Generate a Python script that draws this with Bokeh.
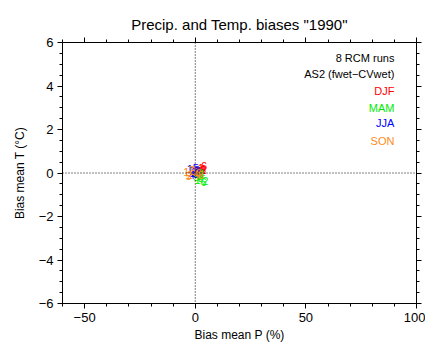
from bokeh.plotting import figure
from bokeh.models import Range1d, SingleIntervalTicker, LinearAxis, Span, Label, ColumnDataSource
from bokeh.core.properties import value
from bokeh.embed import file_html
from bokeh.resources import INLINE

FONT = "Liberation Sans"

title = 'Precip. and Temp. biases "1990"'
runs = ["1", "2", "3", "4", "5", "6", "7", "8"]
seasons = ["DJF", "MAM", "JJA", "SON"]
season_colors = ["#FF0000", "#00EE00", "#0000FF", "#FF8C1A"]

djf_p = [2.5, 3.8, 2.0, 3.2, 1.5, 4.0, 2.8, 3.5]
djf_t = [0.25, 0.15, 0.05, 0.2, 0.1, 0.3, -0.05, 0.12]
mam_p = [1.0, 4.5, 2.2, 3.0, 0.5, 3.8, 1.8, 2.5]
mam_t = [-0.3, -0.35, -0.15, -0.05, -0.2, -0.4, 0.0, -0.25]
jja_p = [-2.5, -0.5, 0.8, -1.5, 0.2, 1.5, -1.0, 0.5]
jja_t = [0.2, 0.05, 0.15, -0.1, 0.25, 0.0, 0.1, -0.05]
son_p = [-4.0, -2.5, -1.0, 0.5, -3.0, 1.5, -1.8, 2.5]
son_t = [0.05, -0.1, 0.1, -0.05, -0.15, 0.0, 0.12, -0.1]

series_p = [djf_p, mam_p, jja_p, son_p]
series_t = [djf_t, mam_t, jja_t, son_t]

p = figure(width=425, height=344, output_backend="svg", toolbar_location=None,
           x_range=Range1d(-60, 100), y_range=Range1d(-6, 6),
           min_border_left=62, min_border_right=9, min_border_top=42, min_border_bottom=41,
           x_axis_label="Bias mean P (%)", y_axis_label="Bias mean T (\u00b0C)",
           title=title)
p.title.align = "center"
p.title.text_font = FONT
p.title.text_font_size = "15px"
p.title.text_font_style = "normal"
p.title.text_color = "black"

p.grid.visible = False
p.outline_line_color = "black"
p.outline_line_width = 1

p.xaxis.ticker = SingleIntervalTicker(interval=50, num_minor_ticks=5)
p.yaxis.ticker = SingleIntervalTicker(interval=2, num_minor_ticks=4)

for ax in [p.xaxis[0], p.yaxis[0]]:
    ax.major_tick_out = 5
    ax.major_tick_in = 0
    ax.minor_tick_out = 3
    ax.minor_tick_in = 0
    ax.axis_line_color = "black"
    ax.major_tick_line_color = "black"
    ax.minor_tick_line_color = "black"
    ax.major_label_text_font = FONT
    ax.major_label_text_font_size = "13px"
    ax.major_label_text_color = "black"
    ax.axis_label_text_font = FONT
    ax.axis_label_text_font_size = "12px"
    ax.axis_label_text_font_style = "normal"
    ax.axis_label_text_color = "black"
p.xaxis.axis_label_standoff = 3
p.yaxis.axis_label_standoff = 9
p.yaxis.major_label_standoff = 4
p.xaxis.major_label_standoff = 4

right = LinearAxis(ticker=SingleIntervalTicker(interval=2, num_minor_ticks=4),
                   major_label_text_color=None, major_tick_out=5, major_tick_in=0,
                   minor_tick_out=3, minor_tick_in=0)
top = LinearAxis(ticker=SingleIntervalTicker(interval=50, num_minor_ticks=5),
                 major_label_text_color=None, major_tick_out=5, major_tick_in=0,
                 minor_tick_out=3, minor_tick_in=0)
p.add_layout(right, "right")
p.add_layout(top, "above")
right.major_label_text_font_size = "1px"
top.major_label_text_font_size = "1px"
right.major_label_standoff = 0
top.major_label_standoff = 5

p.add_layout(Span(location=0, dimension="width", line_color="black", line_dash="1 2", line_width=1))
p.add_layout(Span(location=0, dimension="height", line_color="black", line_dash="1 2", line_width=1))

for i, s in enumerate(seasons):
    src = ColumnDataSource(dict(x=series_p[i], y=series_t[i], t=runs))
    p.text(x="x", y="y", text="t", source=src, text_color=season_colors[i],
           text_align="center", text_baseline="middle", text_font=value(FONT),
           text_font_size="11px")

legend_y = [5.31, 4.57, 3.79, 3.01, 2.28, 1.49]
legend_text = ["8 RCM runs", "AS2 (fwet\u2212CVwet)"] + seasons
legend_col = ["black", "black"] + season_colors
for ty, tt, tc in zip(legend_y, legend_text, legend_col):
    p.add_layout(Label(x=90, y=ty, text=tt, text_color=tc, text_align="right",
                       text_baseline="middle", text_font=FONT, text_font_size="11px"))

open("out.html", "w").write(file_html(p, INLINE))
